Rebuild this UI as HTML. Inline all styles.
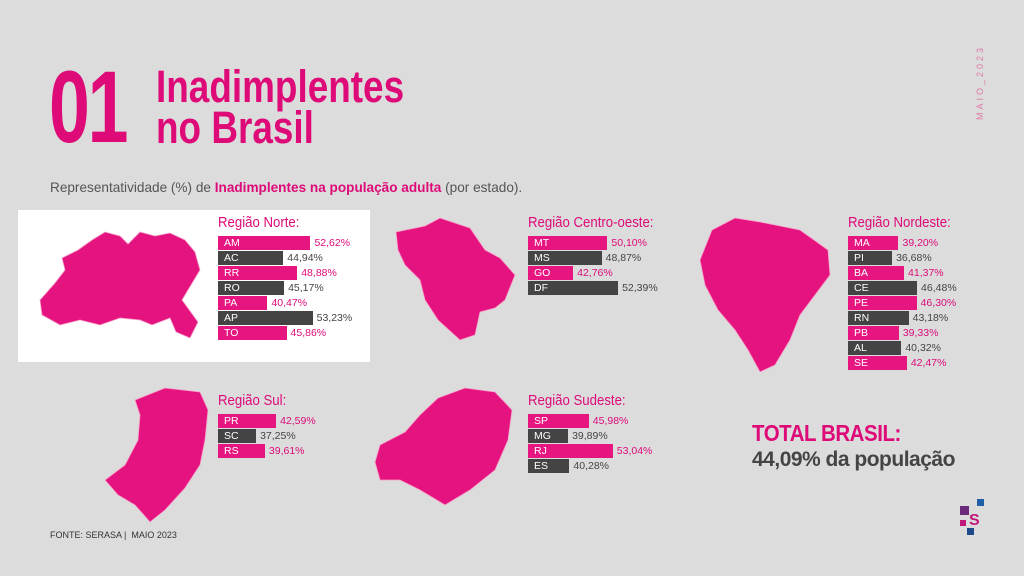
<!DOCTYPE html>
<html><head><meta charset="utf-8"><style>
body{margin:0;width:1024px;height:576px;background:#dcdcdc;overflow:hidden;position:relative;font-family:"Liberation Sans",sans-serif}
.abs{position:absolute}
.pink{color:#dd0a78}
</style></head><body>
<div class="abs pink" style="left:49px;top:56px;font-size:102px;font-weight:bold;line-height:102px;transform:scaleX(0.72);transform-origin:left;letter-spacing:-3px">01</div>
<div class="abs pink" style="left:156px;top:66px;font-size:45px;font-weight:bold;line-height:41px;transform:scaleX(0.82);transform-origin:left;white-space:nowrap">Inadimplentes<br>no Brasil</div>
<div class="abs" style="left:50px;top:180px;font-size:13.6px;color:#555;white-space:nowrap">Representatividade (%) de <b class="pink">Inadimplentes na população adulta</b> (por estado).</div>
<div class="abs" style="left:975px;top:120px;font-size:9px;color:#e07aa8;letter-spacing:3px;transform:rotate(-90deg);transform-origin:left top">MAIO_2023</div>
<div class="abs" style="left:18px;top:210px;width:352px;height:152px;background:#fff"></div>
<svg class="abs" style="left:0;top:0" width="1024" height="576">
<g fill="#e4137f" stroke="#f7a0c8" stroke-width="0.8">
<path d="M40,300 L55,283 L65,270 L62,258 L78,250 L92,240 L105,232 L120,236 L128,244 L140,232 L155,236 L170,233 L185,240 L195,252 L200,270 L188,290 L182,300 L198,322 L190,338 L176,332 L170,318 L152,325 L140,320 L120,318 L100,325 L80,320 L60,325 L42,315 Z"/>
<path d="M396,232 L425,226 L440,218 L470,228 L485,250 L500,258 L515,275 L505,300 L495,308 L480,312 L475,335 L460,340 L438,320 L425,300 L420,280 L405,265 L398,250 Z"/>
<path d="M712,230 L735,218 L760,222 L800,230 L828,250 L830,275 L815,295 L800,315 L790,340 L775,365 L760,372 L748,350 L735,330 L718,310 L705,285 L700,260 Z"/>
<path d="M135,400 L165,388 L200,392 L208,410 L205,440 L200,465 L185,488 L165,510 L150,522 L135,505 L118,495 L105,480 L125,465 L138,440 L140,415 Z"/>
<path d="M380,445 L405,432 L420,415 L438,398 L465,388 L495,392 L512,410 L508,440 L495,470 L470,490 L445,505 L420,490 L400,480 L380,480 L375,462 Z"/>
</g></svg>
<div id="charts"></div>
<div class="abs pink" style="left:752px;top:420px;font-size:23px;font-weight:bold;letter-spacing:-0.5px;transform:scaleX(0.89);transform-origin:left;white-space:nowrap">TOTAL BRASIL:</div>
<div class="abs" style="left:752px;top:448px;font-size:21px;font-weight:bold;color:#444;letter-spacing:-0.5px">44,09% da população</div>
<div class="abs" style="left:50px;top:530px;font-size:9px;color:#333">FONTE: SERASA |&nbsp; MAIO 2023</div>
<svg class="abs" style="left:950px;top:495px" width="40" height="45">
<rect x="10" y="11" width="9" height="9" fill="#6c2a7a"/><rect x="27" y="4" width="7" height="7" fill="#1e5fa8"/><rect x="40" y="14" width="5" height="5" fill="#1e4a8a"/><rect x="10" y="25" width="6" height="6" fill="#c0187a"/><rect x="17" y="33" width="7" height="7" fill="#1e4a8a"/>
<text x="19" y="30" font-size="16" fill="#c0187a" font-family="Liberation Sans" font-weight="bold">S</text></svg>
<script>
const regionNames=["Região Norte:","Região Centro-oeste:","Região Nordeste:","Região Sul:","Região Sudeste:"];
const norteStates=["AM","AC","RR","RO","PA","AP","TO"];
const norteValues=[52.62,44.94,48.88,45.17,40.47,53.23,45.86];
const centroStates=["MT","MS","GO","DF"];
const centroValues=[50.10,48.87,42.76,52.39];
const nordesteStates=["MA","PI","BA","CE","PE","RN","PB","AL","SE"];
const nordesteValues=[39.20,36.68,41.37,46.48,46.30,43.18,39.33,40.32,42.47];
const sulStates=["PR","SC","RS"];
const sulValues=[42.59,37.25,39.61];
const sudesteStates=["SP","MG","RJ","ES"];
const sudesteValues=[45.98,39.89,53.04,40.28];
const layout=[
 {x:218,y:216,k:3.54,v0:26.5,s:norteStates,v:norteValues},
 {x:528,y:216,k:4.67,v0:33.1,s:centroStates,v:centroValues},
 {x:848,y:216,k:2.55,v0:19.4,s:nordesteStates,v:nordesteValues},
 {x:218,y:394,k:3.75,v0:27.1,s:sulStates,v:sulValues},
 {x:528,y:394,k:3.4,v0:28.1,s:sudesteStates,v:sudesteValues}];
const root=document.getElementById('charts');
layout.forEach((L,ri)=>{
 const t=document.createElement('div');
 t.className='abs pink';
 
 
 t.style.cssText=`left:${L.x}px;top:${L.y-2}px;font-size:15px;transform:scaleX(0.88);transform-origin:left;white-space:nowrap`;
 t.textContent=regionNames[ri];root.appendChild(t);
 L.s.forEach((st,i)=>{
  const w=Math.max(20,L.k*(L.v[i]-L.v0));
  const pink=i%2===0;
  const b=document.createElement('div');
  b.className='abs';
  
  
  b.style.cssText=`left:${L.x}px;top:${L.y+20+i*15}px;width:${w}px;height:14px;background:${pink?'#e6157f':'#444'};color:#fff;font-size:10.5px;line-height:14px;padding-left:6px;box-sizing:border-box`;
  b.textContent=st;root.appendChild(b);
  const l=document.createElement('div');
  l.className='abs';
  
  
  l.style.cssText=`left:${L.x+w+4}px;top:${L.y+20+i*15}px;font-size:10.5px;line-height:14px;color:${pink?'#dd0a78':'#444'}`;
  l.textContent=L.v[i].toFixed(2).replace('.',',')+'%';root.appendChild(l);
 });
});
</script>
</body></html>
